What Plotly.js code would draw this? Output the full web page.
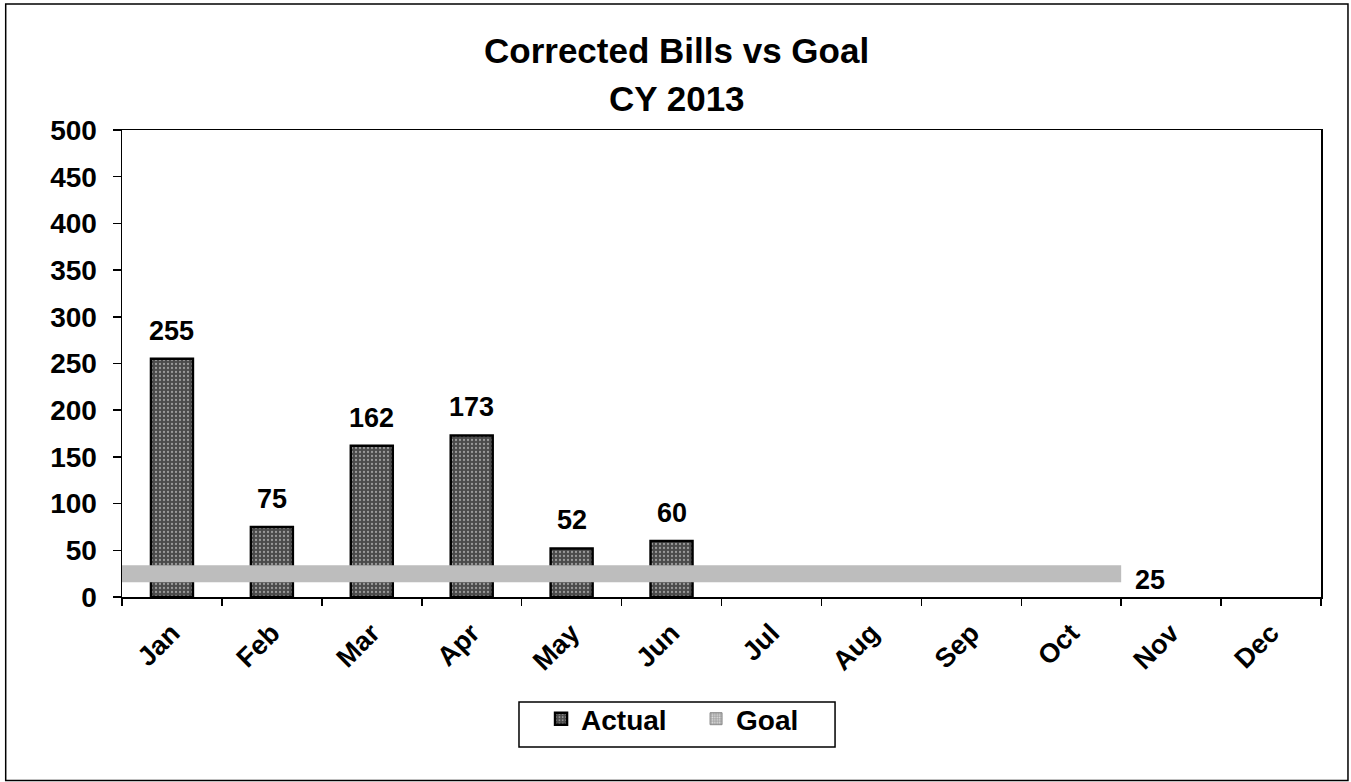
<!DOCTYPE html>
<html>
<head>
<meta charset="utf-8">
<script src="https://cdn.plot.ly/plotly-3.0.1.min.js"></script>
<style>
html,body{margin:0;padding:0;background:#fff;}
#chart{width:1351px;height:782px;}
</style>
</head>
<body>
<div id="chart"></div>
<script>
const months = ["Jan","Feb","Mar","Apr","May","Jun","Jul","Aug","Sep","Oct","Nov","Dec"];
const actual = [255, 75, 162, 173, 52, 60, null, null, null, null, null, null];
const goalMonths = ["Jan","Feb","Mar","Apr","May","Jun","Jul","Aug","Sep","Oct"];
const goal = [25, 25, 25, 25, 25, 25, 25, 25, 25, 25];
const yTicks = [0, 50, 100, 150, 200, 250, 300, 350, 400, 450, 500];
const titleLines = ["Corrected Bills vs Goal", "CY 2013"];

const FONT = "Liberation Sans, Arial, sans-serif";

// goal band spans each goal month's full category slot
const goalX = goalMonths.map(m => months.indexOf(m) - 0.5);
goalX.push(months.indexOf(goalMonths[goalMonths.length - 1]) + 0.5);
const goalY = goal.slice();
goalY.push(goal[goal.length - 1]);

const barPattern = {shape: ".", fgcolor: "#9a9a9a", bgcolor: "#4a4a4a", size: 4, solidity: 0.25, fillmode: "replace"};
const goalPattern = {shape: ".", fgcolor: "#e0e0e0", bgcolor: "#a8a8a8", size: 3, solidity: 0.3, fillmode: "replace"};

const traces = [
  {
    type: "bar",
    name: "Actual",
    x: months,
    y: actual,
    width: 0.42,
    marker: {color: "#555555", line: {color: "#000000", width: 2.5}, pattern: barPattern},
    hoverinfo: "x+y"
  },
  {
    type: "scatter",
    mode: "lines",
    name: "Goal",
    xaxis: "x2",
    x: goalX,
    y: goalY,
    showlegend: false,
    line: {color: "#bdbdbd", width: 17}
  },
  {
    // legend entry for Goal (square swatch like the reference)
    type: "bar",
    name: "Goal",
    x: [months[0]],
    y: [null],
    marker: {color: "#bdbdbd", line: {color: "#888", width: 1}, pattern: goalPattern},
    showlegend: true,
    hoverinfo: "skip"
  }
];

const annotations = [];
// title lines
annotations.push({
  text: "<b>" + titleLines[0] + "</b>", xref: "paper", yref: "paper",
  x: 0.4625, y: 1.1713, xanchor: "center", yanchor: "middle", showarrow: false,
  font: {family: FONT, size: 35, color: "#000"}
});
annotations.push({
  text: "<b>" + titleLines[1] + "</b>", xref: "paper", yref: "paper",
  x: 0.4625, y: 1.068, xanchor: "center", yanchor: "middle", showarrow: false,
  font: {family: FONT, size: 35, color: "#000"}
});
// bar data labels
months.forEach((m, i) => {
  if (actual[i] === null) return;
  annotations.push({
    text: "<b>" + actual[i] + "</b>", xref: "x", yref: "y",
    x: m, y: actual[i], xanchor: "center", yanchor: "bottom",
    yshift: 11, showarrow: false,
    font: {family: FONT, size: 27, color: "#000"}
  });
});
// goal label at end of band
annotations.push({
  text: "<b>" + goal[goal.length - 1] + "</b>", xref: "x2", yref: "y",
  x: goalX[goalX.length - 1], y: goalY[goalY.length - 1],
  xanchor: "left", yanchor: "middle", xshift: 12, yshift: -6, showarrow: false,
  font: {family: FONT, size: 27, color: "#000"}
});

const layout = {
  width: 1351,
  height: 782,
  margin: {l: 122, r: 30, t: 130, b: 185},
  paper_bgcolor: "#ffffff",
  plot_bgcolor: "#ffffff",
  font: {family: FONT, color: "#000", size: 24},
  barmode: "overlay",
  showlegend: true,
  legend: {
    orientation: "h",
    x: 0.3495, xanchor: "left",
    y: -0.2077, yanchor: "top",
    borderwidth: 0,
    bgcolor: "rgba(0,0,0,0)",
    font: {family: FONT, size: 28, color: "#000", weight: "bold"},
    itemwidth: 30,
    entrywidth: 110,
    traceorder: "normal"
  },
  xaxis: {
    type: "category",
    categoryorder: "array",
    categoryarray: months,
    range: [-0.5, 11.5],
    tickson: "boundaries",
    ticks: "outside",
    ticklen: 7,
    tickcolor: "#000",
    tickwidth: 1.5,
    tickangle: -45,
    ticklabelstandoff: 8,
    tickfont: {family: FONT, size: 27, color: "#000", weight: "bold"},
    showline: true,
    linecolor: "#000",
    linewidth: 1.5,
    mirror: true,
    showgrid: false,
    zeroline: false,
    fixedrange: true
  },
  xaxis2: {
    type: "linear",
    overlaying: "x",
    range: [-0.5, 11.5],
    visible: false,
    fixedrange: true
  },
  yaxis: {
    range: [0, 500],
    tickvals: yTicks,
    ticktext: yTicks.map(String),
    ticks: "outside",
    ticklen: 8,
    tickcolor: "#000",
    tickwidth: 1.5,
    ticklabelstandoff: 10,
    tickfont: {family: FONT, size: 28, color: "#000", weight: "bold"},
    showline: true,
    linecolor: "#000",
    linewidth: 1.5,
    mirror: true,
    showgrid: false,
    zeroline: false,
    fixedrange: true
  },
  annotations: annotations,
  shapes: [
    {
      // chart-area frame
      type: "rect", xref: "paper", yref: "paper",
      x0: -0.097, x1: 1.0225, y0: -0.393, y1: 1.27,
      line: {color: "#000", width: 1.5},
      fillcolor: "rgba(0,0,0,0)",
      layer: "below"
    },
    {
      // legend frame
      type: "rect", xref: "paper", yref: "paper",
      x0: 0.3311, x1: 0.5947, y0: -0.3212, y1: -0.2248,
      line: {color: "#000", width: 1.5},
      fillcolor: "rgba(0,0,0,0)",
      layer: "below"
    }
  ]
};

Plotly.newPlot("chart", traces, layout, {displayModeBar: false, staticPlot: true});
</script>
</body>
</html>
